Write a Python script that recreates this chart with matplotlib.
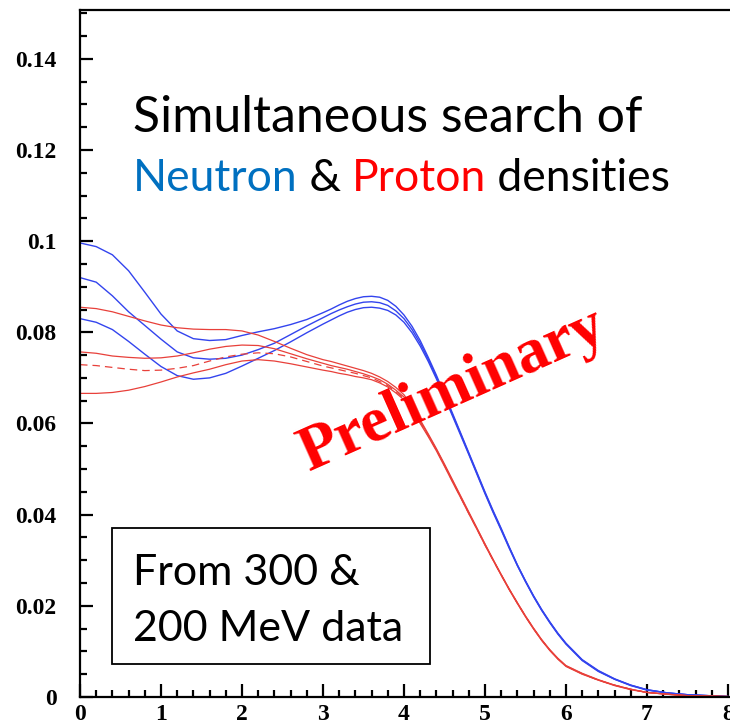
import matplotlib
matplotlib.use("Agg")
import matplotlib.pyplot as plt
from matplotlib.patches import Rectangle
from matplotlib.ticker import MultipleLocator, FormatStrFormatter

# radius grid (fm): coarse in the flat interior, finer across the surface
r = [0.0, 0.2, 0.4, 0.6, 0.8, 1.0, 1.2, 1.4, 1.6, 1.8, 2.0, 2.2, 2.4, 2.6, 2.8,
     3.0, 3.1, 3.2, 3.3, 3.4, 3.5, 3.6, 3.7, 3.8, 3.9, 4.0, 4.1, 4.2, 4.3, 4.4,
     4.5, 4.6, 4.7, 4.8, 4.9, 5.0, 5.1, 5.2, 5.3, 5.4, 5.5, 5.6, 5.7, 5.8, 5.9,
     6.0, 6.2, 6.4, 6.6, 6.8, 7.0, 7.25, 7.5, 8.0]

# neutron densities (blue)
neutron_1 = [0.0996, 0.0988, 0.0970, 0.0935, 0.0888, 0.0840, 0.0803, 0.0786, 0.0782, 0.0784,
             0.0793, 0.0801, 0.0808, 0.0817, 0.0828,
             0.0843, 0.0851, 0.0860, 0.0868, 0.0874, 0.0878, 0.0879, 0.0877, 0.0870, 0.0857,
             0.0838, 0.0813, 0.0782, 0.0745, 0.0706, 0.0664, 0.0622, 0.0579, 0.0536, 0.0493,
             0.0450, 0.0409, 0.0370, 0.0329, 0.0290, 0.0255, 0.0222, 0.0192, 0.0165, 0.0140,
             0.0118, 0.0082, 0.0058, 0.0040, 0.0026, 0.0016, 0.0009, 0.0005, 0.0001]
neutron_2 = [0.0920, 0.0910, 0.0880, 0.0845, 0.0815, 0.0785, 0.0757, 0.0744, 0.0741, 0.0743,
             0.0750, 0.0762, 0.0776, 0.0795, 0.0814,
             0.0832, 0.0841, 0.0849, 0.0856, 0.0862, 0.0866, 0.0867, 0.0865, 0.0859, 0.0847,
             0.0830, 0.0806, 0.0776, 0.0741, 0.0702, 0.0661, 0.0619, 0.0577, 0.0534, 0.0491,
             0.0448, 0.0407, 0.0368, 0.0328, 0.0289, 0.0254, 0.0221, 0.0191, 0.0164, 0.0139,
             0.0117, 0.0081, 0.0057, 0.0039, 0.0026, 0.0016, 0.0009, 0.0005, 0.0001]
neutron_3 = [0.0830, 0.0822, 0.0806, 0.0780, 0.0752, 0.0725, 0.0705, 0.0697, 0.0700, 0.0710,
             0.0726, 0.0743, 0.0760, 0.0779, 0.0799,
             0.0818, 0.0827, 0.0836, 0.0844, 0.0850, 0.0854, 0.0855, 0.0853, 0.0848, 0.0838,
             0.0822, 0.0799, 0.0770, 0.0736, 0.0698, 0.0658, 0.0616, 0.0574, 0.0532, 0.0489,
             0.0446, 0.0405, 0.0366, 0.0326, 0.0288, 0.0253, 0.0220, 0.0190, 0.0163, 0.0138,
             0.0116, 0.0080, 0.0056, 0.0039, 0.0025, 0.0015, 0.0009, 0.0005, 0.0001]

# proton densities (red)
proton_1 = [0.0855, 0.0852, 0.0845, 0.0835, 0.0825, 0.0816, 0.0810, 0.0807, 0.0806, 0.0806,
            0.0803, 0.0794, 0.0780, 0.0765, 0.0751,
            0.0740, 0.0736, 0.0731, 0.0726, 0.0721, 0.0716, 0.0710, 0.0702, 0.0692, 0.0679,
            0.0663, 0.0638, 0.0608, 0.0577, 0.0545, 0.0511, 0.0476, 0.0441, 0.0406, 0.0371,
            0.0336, 0.0302, 0.0269, 0.0237, 0.0207, 0.0178, 0.0151, 0.0126, 0.0104, 0.0085,
            0.0069, 0.0052, 0.0038, 0.0026, 0.0017, 0.0010, 0.0006, 0.0003, 0.0001]
proton_2 = [0.0757, 0.0754, 0.0748, 0.0745, 0.0743, 0.0744, 0.0748, 0.0755, 0.0763, 0.0769,
            0.0772, 0.0771, 0.0764, 0.0753, 0.0742,
            0.0732, 0.0727, 0.0723, 0.0719, 0.0714, 0.0709, 0.0703, 0.0696, 0.0686, 0.0673,
            0.0658, 0.0634, 0.0605, 0.0575, 0.0543, 0.0509, 0.0474, 0.0439, 0.0404, 0.0370,
            0.0335, 0.0301, 0.0268, 0.0236, 0.0206, 0.0177, 0.0150, 0.0125, 0.0103, 0.0084,
            0.0068, 0.0051, 0.0037, 0.0026, 0.0017, 0.0010, 0.0006, 0.0003, 0.0001]
proton_dash = [0.0729, 0.0727, 0.0723, 0.0719, 0.0716, 0.0717, 0.0721, 0.0727, 0.0737, 0.0746,
               0.0752, 0.0755, 0.0753, 0.0746, 0.0736,
               0.0726, 0.0722, 0.0718, 0.0714, 0.0710, 0.0705, 0.0700, 0.0692, 0.0683, 0.0670,
               0.0655, 0.0631, 0.0603, 0.0573, 0.0542, 0.0508, 0.0473, 0.0438, 0.0403, 0.0369,
               0.0334, 0.0300, 0.0268, 0.0236, 0.0206, 0.0177, 0.0150, 0.0125, 0.0103, 0.0084,
               0.0068, 0.0051, 0.0037, 0.0026, 0.0017, 0.0010, 0.0006, 0.0003, 0.0001]
proton_3 = [0.0666, 0.0666, 0.0668, 0.0673, 0.0681, 0.0691, 0.0702, 0.0711, 0.0719, 0.0729,
            0.0737, 0.0740, 0.0737, 0.0731, 0.0724,
            0.0717, 0.0714, 0.0710, 0.0707, 0.0703, 0.0700, 0.0696, 0.0689, 0.0680, 0.0667,
            0.0652, 0.0628, 0.0600, 0.0571, 0.0540, 0.0506, 0.0471, 0.0437, 0.0402, 0.0368,
            0.0333, 0.0300, 0.0267, 0.0235, 0.0205, 0.0176, 0.0149, 0.0124, 0.0102, 0.0083,
            0.0067, 0.0050, 0.0037, 0.0025, 0.0016, 0.0010, 0.0006, 0.0003, 0.0001]

W, H = 730, 721
fig = plt.figure(figsize=(W / 100, H / 100), dpi=100)
# axes: left spine at x=80px, top at 10px, bottom at 697px; right spine off-canvas
ax = fig.add_axes([80 / W, 1 - 697 / H, 652 / W, 687 / H])

blue = "#3344ee"
red = "#e8403a"
for y in (neutron_1, neutron_2, neutron_3):
    ax.plot(r, y, color=blue, lw=1.0)
for y in (proton_1, proton_2, proton_3):
    ax.plot(r, y, color=red, lw=0.9)
ax.plot(r, proton_dash, color=red, lw=0.9, dashes=(6, 4))

ax.set_xlim(0, 8.05)
ax.set_ylim(0, 0.1507)
ax.xaxis.set_major_locator(MultipleLocator(1))
ax.xaxis.set_minor_locator(MultipleLocator(0.2))
ax.yaxis.set_major_locator(MultipleLocator(0.02))
ax.yaxis.set_minor_locator(MultipleLocator(0.005))
ax.yaxis.set_major_formatter(FormatStrFormatter("%g"))
ax.xaxis.set_major_formatter(FormatStrFormatter("%g"))
ax.tick_params(which="both", direction="in", width=1.6, top=False, right=False)
ax.tick_params(which="major", length=9.5)
ax.tick_params(which="minor", length=5)
ax.tick_params(axis="y", pad=17)
ax.tick_params(axis="x", pad=5)
for lab in ax.get_xticklabels() + ax.get_yticklabels():
    lab.set_fontfamily("Liberation Serif")
    lab.set_fontweight("bold")
    lab.set_fontsize(17)
for s in ("left", "bottom", "top"):
    ax.spines[s].set_linewidth(1.6)
ax.spines["right"].set_visible(False)

# headline, second line in three colours
fig.text(133 / W, 1 - 132 / H, "Simultaneous search of", fontsize=36,
         family="Lato", va="baseline", ha="left")
prev = fig.text(133 / W, 1 - 191 / H, "Neutron", fontsize=32, family="Lato",
                color="#0070c0", va="baseline", ha="left")
for txt, col in ((" & ", "black"), ("Proton", "#ff0000"), (" densities", "black")):
    prev = ax.annotate(txt, xy=(1, 0), xycoords=prev, va="bottom", ha="left",
                       fontsize=32, family="Lato", color=col, annotation_clip=False)

# data box
fig.patches.append(Rectangle((112 / W, 1 - 664 / H), 318 / W, 136 / H,
                             transform=fig.transFigure, fill=False,
                             edgecolor="black", lw=1.3))
fig.text(133 / W, 1 - 585 / H, "From 300 &", fontsize=31, family="Lato",
         va="baseline", ha="left")
fig.text(133 / W, 1 - 641 / H, "200 MeV data", fontsize=31, family="Lato",
         va="baseline", ha="left")

fig.text(453 / W, 1 - 391 / H, "Preliminary", fontsize=46, family="Liberation Serif",
         fontweight="bold", color="#ff0000", rotation=24, ha="center", va="center")

fig.savefig("out.png", dpi=100)
